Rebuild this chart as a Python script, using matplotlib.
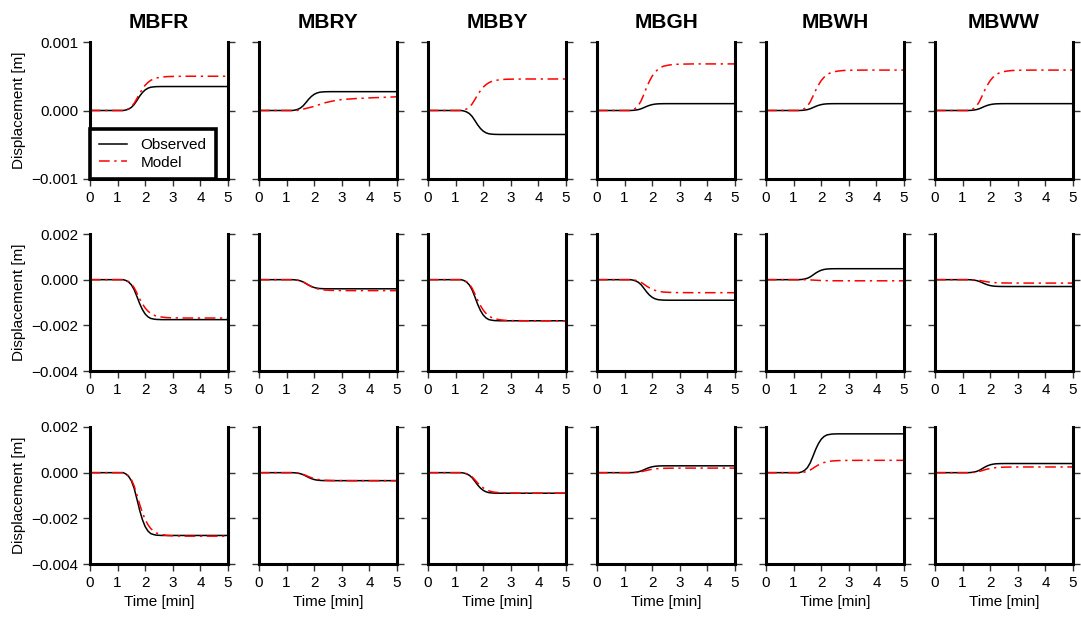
import matplotlib
matplotlib.use("Agg")
import matplotlib.pyplot as plt
import numpy as np

plt.rcParams['font.family'] = ['Liberation Sans', 'DejaVu Sans']

stations = ['MBFR', 'MBRY', 'MBBY', 'MBGH', 'MBWH', 'MBWW']

# time samples [min] and normalised step profiles read along the records
t = [0.0, 1.0, 1.2, 1.3, 1.4, 1.5, 1.6, 1.7, 1.8, 1.9, 2.0, 2.1, 2.2, 2.3,
     2.4, 2.6, 2.8, 3.0, 3.5, 4.0, 5.0]
obs_shape = [0.0, 0.0, 0.0, 0.02, 0.06, 0.13, 0.25, 0.42, 0.60, 0.75, 0.86,
             0.93, 0.97, 0.985, 0.995, 1.0, 1.0, 1.0, 1.0, 1.0, 1.0]
model_shape = [0.0, 0.0, 0.0, 0.015, 0.05, 0.11, 0.21, 0.35, 0.50, 0.63, 0.74,
               0.82, 0.88, 0.92, 0.95, 0.975, 0.99, 0.995, 1.0, 1.0, 1.0]
model_shape_slow = [0.0, 0.0, 0.0, 0.0, 0.01, 0.05, 0.10, 0.15, 0.20, 0.25,
                    0.30, 0.37, 0.44, 0.50, 0.57, 0.66, 0.74, 0.80, 0.87,
                    0.92, 1.0]

# final static offsets [m], one row per component
obs_final = [
    [0.00035, 0.000275, -0.00035, 0.0001, 0.0001, 0.0001],
    [-0.00175, -0.0004, -0.0018, -0.0009, 0.00048, -0.0003],
    [-0.00275, -0.00035, -0.0009, 0.0003, 0.0017, 0.0004],
]
model_final = [
    [0.0005, 0.0002, 0.00046, 0.00068, 0.00059, 0.00059],
    [-0.00168, -0.00048, -0.0018, -0.00057, -0.00005, -0.00015],
    [-0.00278, -0.00035, -0.0009, 0.0002, 0.00054, 0.00025],
]
slow_model = {(0, 1)}

ylims = [(-0.001, 0.001), (-0.004, 0.002), (-0.004, 0.002)]
yticks = [[-0.001, 0.0, 0.001],
          [-0.004, -0.002, 0.0, 0.002],
          [-0.004, -0.002, 0.0, 0.002]]

W, H = 1081, 619
fig = plt.figure(figsize=(W / 100, H / 100), dpi=100)

col_left = [90, 259, 428, 597, 766, 935]
row_top = [42, 234, 427]
pw, ph = 138, 137

for r in range(3):
    for c in range(6):
        ax = fig.add_axes([col_left[c] / W, 1 - (row_top[r] + ph) / H, pw / W, ph / H])
        shape_m = model_shape_slow if (r, c) in slow_model else model_shape
        obs = np.array(obs_shape) * obs_final[r][c]
        mod = np.array(shape_m) * model_final[r][c]
        ax.plot(t, obs, color='black', lw=1.1, label='Observed')
        ax.plot(t, mod, color='red', lw=1.1, dashes=(7, 3, 1.5, 3),
                label='Model')
        ax.set_xlim(0, 5)
        ax.set_ylim(*ylims[r])
        ax.set_xticks(range(6))
        ax.set_yticks(yticks[r])
        ax.spines['top'].set_visible(False)
        for s in ['left', 'right', 'bottom']:
            ax.spines[s].set_linewidth(2.2)
        ax.tick_params(direction='out', length=5, width=1.0, labelsize=11,
                       right=True, top=False, color='#333333')
        if c == 0:
            ax.set_yticklabels([f'{v:.3f}'.replace('-', '\u2212') for v in yticks[r]])
            ax.set_ylabel('Displacement [m]', fontsize=11, labelpad=4)
        else:
            ax.set_yticklabels([])
        if r == 0:
            ax.set_title(stations[c], fontsize=15, fontweight='bold', pad=10)
        if r == 2:
            ax.set_xlabel('Time [min]', fontsize=11, labelpad=4)
        if r == 0 and c == 0:
            leg = ax.legend(loc='lower left', bbox_to_anchor=(0.0, 0.0),
                            borderaxespad=0.0, fancybox=False, framealpha=1,
                            edgecolor='black', fontsize=11, handlelength=1.8,
                            borderpad=0.6, labelspacing=0.25,
                            handletextpad=0.9)
            leg.get_frame().set_linewidth(2.6)

fig.savefig('out.png', dpi=100)
